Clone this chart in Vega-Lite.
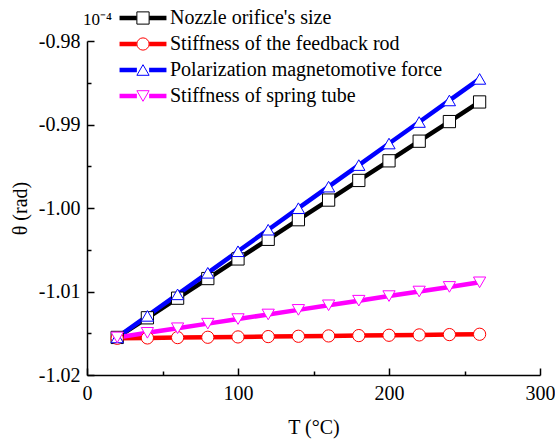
{
  "$schema": "https://vega.github.io/schema/vega-lite/v6.json",
  "autosize": "none",
  "width": 453,
  "height": 334,
  "padding": {"left": 87, "top": 41, "right": 15, "bottom": 66},
  "title": {"text": "10⁻⁴", "anchor": "start", "frame": "group", "font": "Liberation Serif", "fontSize": 17, "fontWeight": "normal", "offset": -21, "dx": -4, "color": "black"},
  "config": {
    "font": "Liberation Serif",
    "view": {"stroke": null},
    "axis": {"domainColor": "black", "domainWidth": 1.5, "tickColor": "black", "tickWidth": 1.5, "labelColor": "black", "labelFlush": false, "labelFont": "Liberation Serif", "titleFont": "Liberation Serif", "titleFontWeight": "normal", "titleColor": "black", "grid": false},
    "legend": {"labelColor": "black", "labelLimit": 0, "labelFont": "Liberation Serif"}
  },
  "data": {"values": [
    {"T": 20, "s": "Nozzle orifice's size", "v": -1.0155},
    {"T": 40, "s": "Nozzle orifice's size", "v": -1.01315},
    {"T": 60, "s": "Nozzle orifice's size", "v": -1.0108},
    {"T": 80, "s": "Nozzle orifice's size", "v": -1.00845},
    {"T": 100, "s": "Nozzle orifice's size", "v": -1.0061},
    {"T": 120, "s": "Nozzle orifice's size", "v": -1.00375},
    {"T": 140, "s": "Nozzle orifice's size", "v": -1.0014},
    {"T": 160, "s": "Nozzle orifice's size", "v": -0.99905},
    {"T": 180, "s": "Nozzle orifice's size", "v": -0.9967},
    {"T": 200, "s": "Nozzle orifice's size", "v": -0.99435},
    {"T": 220, "s": "Nozzle orifice's size", "v": -0.992},
    {"T": 240, "s": "Nozzle orifice's size", "v": -0.98965},
    {"T": 260, "s": "Nozzle orifice's size", "v": -0.9873},
    {"T": 20, "s": "Stiffness of the feedback rod", "v": -1.0156},
    {"T": 40, "s": "Stiffness of the feedback rod", "v": -1.01556},
    {"T": 60, "s": "Stiffness of the feedback rod", "v": -1.01552},
    {"T": 80, "s": "Stiffness of the feedback rod", "v": -1.01548},
    {"T": 100, "s": "Stiffness of the feedback rod", "v": -1.01544},
    {"T": 120, "s": "Stiffness of the feedback rod", "v": -1.0154},
    {"T": 140, "s": "Stiffness of the feedback rod", "v": -1.01536},
    {"T": 160, "s": "Stiffness of the feedback rod", "v": -1.01532},
    {"T": 180, "s": "Stiffness of the feedback rod", "v": -1.01528},
    {"T": 200, "s": "Stiffness of the feedback rod", "v": -1.01524},
    {"T": 220, "s": "Stiffness of the feedback rod", "v": -1.0152},
    {"T": 240, "s": "Stiffness of the feedback rod", "v": -1.01516},
    {"T": 260, "s": "Stiffness of the feedback rod", "v": -1.01512},
    {"T": 20, "s": "Polarization magnetomotive force", "v": -1.0155},
    {"T": 40, "s": "Polarization magnetomotive force", "v": -1.01292},
    {"T": 60, "s": "Polarization magnetomotive force", "v": -1.01034},
    {"T": 80, "s": "Polarization magnetomotive force", "v": -1.00776},
    {"T": 100, "s": "Polarization magnetomotive force", "v": -1.00518},
    {"T": 120, "s": "Polarization magnetomotive force", "v": -1.0026},
    {"T": 140, "s": "Polarization magnetomotive force", "v": -1.00002},
    {"T": 160, "s": "Polarization magnetomotive force", "v": -0.99744},
    {"T": 180, "s": "Polarization magnetomotive force", "v": -0.99486},
    {"T": 200, "s": "Polarization magnetomotive force", "v": -0.99228},
    {"T": 220, "s": "Polarization magnetomotive force", "v": -0.9897},
    {"T": 240, "s": "Polarization magnetomotive force", "v": -0.98712},
    {"T": 260, "s": "Polarization magnetomotive force", "v": -0.98454},
    {"T": 20, "s": "Stiffness of spring tube", "v": -1.0155},
    {"T": 40, "s": "Stiffness of spring tube", "v": -1.01495},
    {"T": 60, "s": "Stiffness of spring tube", "v": -1.0144},
    {"T": 80, "s": "Stiffness of spring tube", "v": -1.01385},
    {"T": 100, "s": "Stiffness of spring tube", "v": -1.0133},
    {"T": 120, "s": "Stiffness of spring tube", "v": -1.01275},
    {"T": 140, "s": "Stiffness of spring tube", "v": -1.0122},
    {"T": 160, "s": "Stiffness of spring tube", "v": -1.01165},
    {"T": 180, "s": "Stiffness of spring tube", "v": -1.0111},
    {"T": 200, "s": "Stiffness of spring tube", "v": -1.01055},
    {"T": 220, "s": "Stiffness of spring tube", "v": -1.01},
    {"T": 240, "s": "Stiffness of spring tube", "v": -1.00945},
    {"T": 260, "s": "Stiffness of spring tube", "v": -1.0089}
  ]},
  "layer": [
    {
      "mark": {"type": "line", "strokeWidth": 4.5},
      "encoding": {
        "x": {"field": "T", "type": "quantitative", "scale": {"domain": [0, 300]}, "axis": {"orient": "bottom", "values": [0, 100, 200, 300], "tickSize": -7, "labelPadding": 15, "labelFont": "Liberation Serif", "labelFontSize": 20, "title": "T (°C)", "titlePadding": 14, "titleFont": "Liberation Serif", "titleFontSize": 20}},
        "y": {"field": "v", "type": "quantitative", "scale": {"domain": [-1.02, -0.98]}, "axis": {"orient": "left", "values": [-1.02, -1.01, -1.0, -0.99, -0.98], "format": ".2f", "labelExpr": "replace(datum.label, '−', '-')", "tickSize": -7, "labelPadding": 14, "labelFont": "Liberation Serif", "labelFontSize": 20, "title": "θ (rad)", "titlePadding": 8, "titleFont": "Liberation Serif", "titleFontSize": 20}},
        "stroke": {"field": "s", "type": "nominal", "sort": null,
          "scale": {"domain": ["Nozzle orifice's size", "Stiffness of the feedback rod", "Polarization magnetomotive force", "Stiffness of spring tube"], "range": ["#000000", "#ff0000", "#0000ff", "#ff00ff"]},
          "legend": {"title": null, "orient": "none", "legendX": 46, "legendY": -33, "symbolType": "M-3.83,0H-1M1,0H3.83", "symbolSize": 150, "symbolStrokeWidth": 4.5, "labelOpacity": 0, "labelFont": "Liberation Serif", "labelFontSize": 20, "labelOffset": 17, "rowPadding": 6}}
      }
    },
    {
      "mark": {"type": "point", "filled": false, "fill": "white", "fillOpacity": 1, "size": 150, "strokeWidth": 1, "opacity": 1},
      "encoding": {
        "x": {"field": "T", "type": "quantitative", "axis": {"orient": "bottom", "values": [50, 150, 250], "tickSize": -4, "labels": false, "domain": false, "title": null}},
        "y": {"field": "v", "type": "quantitative", "axis": {"orient": "left", "values": [-1.015, -1.005, -0.995, -0.985], "tickSize": -4, "labels": false, "domain": false, "title": null}},
        "stroke": {"field": "s", "type": "nominal", "sort": null,
          "legend": {"title": null, "orient": "none", "legendX": 46, "legendY": -33, "symbolSize": 150, "symbolStrokeWidth": 1, "symbolFillColor": "white", "labelFont": "Liberation Serif", "labelFontSize": 20, "labelOffset": 17, "rowPadding": 6}},
        "shape": {"field": "s", "type": "nominal", "sort": null,
          "scale": {"domain": ["Nozzle orifice's size", "Stiffness of the feedback rod", "Polarization magnetomotive force", "Stiffness of spring tube"], "range": ["square", "circle", "triangle-up", "triangle-down"]},
          "legend": {"title": null, "orient": "none", "legendX": 46, "legendY": -33, "symbolSize": 150, "symbolStrokeWidth": 1, "symbolFillColor": "white", "labelFont": "Liberation Serif", "labelFontSize": 20, "labelOffset": 17, "rowPadding": 6}}
      }
    }
  ],
  "resolve": {"axis": {"x": "independent", "y": "independent"}, "legend": {"stroke": "independent", "shape": "independent"}}
}
